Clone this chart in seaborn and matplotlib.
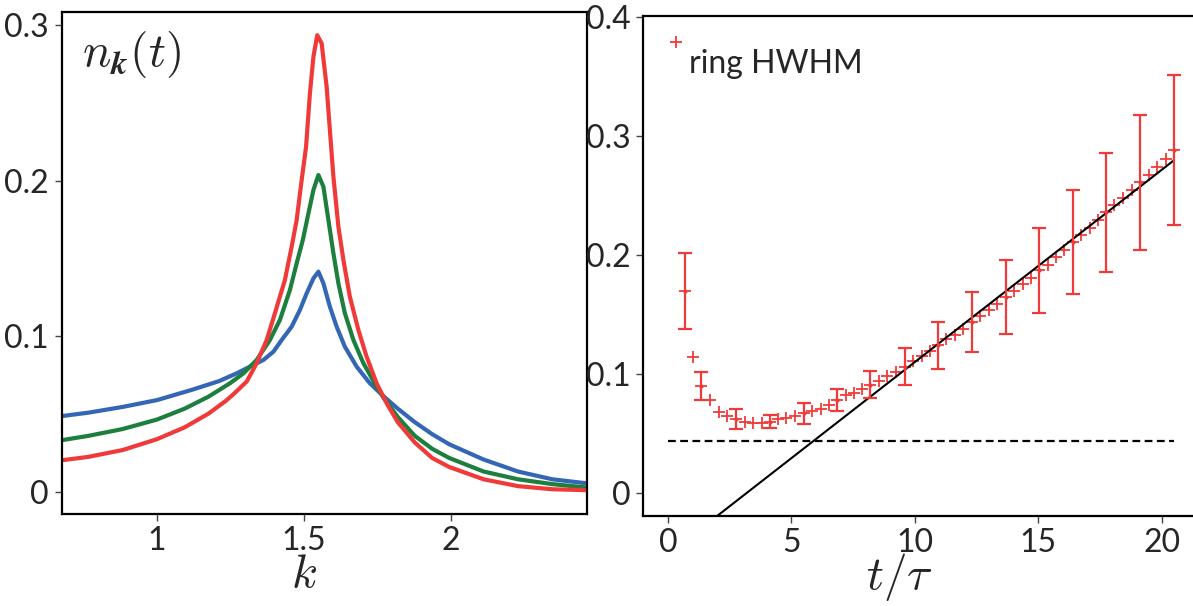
import numpy as np
import pandas as pd
import matplotlib
matplotlib.use("Agg")
import matplotlib.pyplot as plt
from matplotlib.ticker import FuncFormatter
import seaborn as sns

# ---- left panel: momentum distribution n_k(t) at three times ----
k_red = [0.675, 0.766, 0.883, 1.0, 1.094, 1.175, 1.234, 1.260, 1.305, 1.339, 1.373, 1.401,
         1.435, 1.458, 1.475, 1.492, 1.507, 1.520, 1.532, 1.545, 1.560, 1.577, 1.588, 1.600,
         1.617, 1.634, 1.656, 1.685, 1.713, 1.747, 1.781, 1.819, 1.877, 1.936, 1.994, 2.111,
         2.228, 2.345, 2.462]
n_red = [0.0203, 0.0225, 0.0269, 0.0339, 0.0415, 0.0503, 0.0585, 0.0628, 0.0709, 0.0827,
         0.0976, 0.1148, 0.1362, 0.1576, 0.1747, 0.2004, 0.2218, 0.256, 0.2796, 0.2935,
         0.2882, 0.2603, 0.2325, 0.2025, 0.1704, 0.149, 0.1254, 0.104, 0.0869, 0.0698,
         0.057, 0.0448, 0.0317, 0.0218, 0.016, 0.0081, 0.0037, 0.0017, 0.0011]

k_green = [0.675, 0.766, 0.883, 1.0, 1.094, 1.175, 1.248, 1.294, 1.339, 1.384, 1.418, 1.452,
           1.475, 1.496, 1.515, 1.532, 1.549, 1.566, 1.583, 1.600, 1.617, 1.639, 1.668, 1.702,
           1.747, 1.772, 1.819, 1.877, 1.936, 1.994, 2.111, 2.228, 2.345, 2.462]
n_green = [0.0332, 0.036, 0.0404, 0.0465, 0.0535, 0.0612, 0.0698, 0.0762, 0.0848, 0.0976,
           0.1105, 0.1297, 0.1469, 0.1619, 0.179, 0.194, 0.2036, 0.1961, 0.1747, 0.1533,
           0.134, 0.1148, 0.0976, 0.0827, 0.0676, 0.0601, 0.0481, 0.036, 0.0277, 0.0218,
           0.0131, 0.0081, 0.005, 0.0028]

k_blue = [0.675, 0.766, 0.883, 1.0, 1.117, 1.211, 1.271, 1.316, 1.362, 1.396, 1.424, 1.458,
          1.486, 1.509, 1.532, 1.549, 1.566, 1.588, 1.611, 1.639, 1.679, 1.724, 1.772, 1.819,
          1.877, 1.936, 1.994, 2.111, 2.228, 2.345, 2.462]
n_blue = [0.0487, 0.0509, 0.0546, 0.059, 0.0655, 0.0712, 0.0762, 0.0805, 0.0848, 0.0901,
          0.0976, 0.1062, 0.1169, 0.1276, 0.1372, 0.1415, 0.134, 0.119, 0.1062, 0.0933,
          0.0805, 0.0698, 0.0612, 0.0535, 0.0448, 0.0371, 0.0306, 0.0208, 0.0131, 0.0081,
          0.0055]

# ---- right panel: ring HWHM vs t/tau ----
t_hwhm = [0.31, 0.69, 1.03, 1.35, 1.69, 2.05, 2.41, 2.76, 3.10, 3.45, 3.80, 4.14, 4.44, 4.80,
          5.15, 5.49, 5.82, 6.18, 6.51, 6.85, 7.20, 7.54, 7.86, 8.20, 8.55, 8.89, 9.24, 9.58,
          9.92, 10.27, 10.61, 10.93, 11.26, 11.62, 11.95, 12.31, 12.64, 12.98, 13.33, 13.67,
          14.01, 14.36, 14.71, 15.02, 15.37, 15.71, 16.05, 16.40, 16.74, 17.09, 17.43, 17.75,
          18.08, 18.44, 18.77, 19.13, 19.46, 19.80, 20.15, 20.49]
hwhm = [0.379, 0.170, 0.114, 0.090, 0.078, 0.068, 0.065, 0.062, 0.060, 0.059, 0.059, 0.060,
        0.062, 0.063, 0.065, 0.067, 0.069, 0.071, 0.074, 0.078, 0.082, 0.084, 0.0875, 0.091,
        0.094, 0.098, 0.102, 0.106, 0.111, 0.115, 0.119, 0.124, 0.129, 0.133, 0.1375, 0.1436,
        0.149, 0.154, 0.159, 0.165, 0.170, 0.176, 0.1805, 0.187, 0.192, 0.198, 0.204, 0.211,
        0.217, 0.223, 0.229, 0.236, 0.242, 0.248, 0.2545, 0.261, 0.2676, 0.274, 0.281, 0.2886]

t_err = [0.69, 1.35, 2.76, 4.14, 5.49, 6.85, 8.20, 9.58, 10.93, 12.31, 13.67, 15.02, 16.40,
         17.75, 19.13, 20.49]
y_err = [0.170, 0.090, 0.062, 0.060, 0.067, 0.078, 0.091, 0.106, 0.124, 0.1436, 0.165, 0.187,
         0.211, 0.236, 0.261, 0.2886]
err = [0.032, 0.012, 0.0085, 0.0055, 0.0088, 0.009, 0.0115, 0.0155, 0.020, 0.0255, 0.031,
       0.036, 0.044, 0.050, 0.057, 0.063]

fit_t = [0.0, 20.49]
fit_slope = 0.01616
fit_icpt = -0.0515
dash_level = 0.0436
dash_t = [0.0, 20.5]

RED = '#f03a3a'
GREEN = '#1c7f3e'
BLUE = '#3466b6'

sns.set_theme(style="ticks")
plt.rcParams['font.family'] = ['Lato', 'DejaVu Sans']
plt.rcParams['mathtext.fontset'] = 'cm'
plt.rcParams['axes.linewidth'] = 1.6
plt.rcParams['axes.edgecolor'] = 'black'

fig = plt.figure(figsize=(11.93, 6.06), dpi=100)
W, H = 1193, 606
ax1 = fig.add_axes([61.5 / W, 1 - 514 / H, (586.8 - 61.5) / W, (514 - 11.5) / H])
ax2 = fig.add_axes([643 / W, 1 - 515.6 / H, (1193 - 643) / W, (515.6 - 16.3) / H])

fmt = FuncFormatter(lambda v, p: f"{v:g}")

# left panel
for kk, nn, c in [(k_blue, n_blue, BLUE), (k_green, n_green, GREEN), (k_red, n_red, RED)]:
    sns.lineplot(x=kk, y=nn, ax=ax1, color=c, linewidth=3.0, sort=False)
ax1.set_xlim(0.675, 2.462)
ax1.set_ylim(-0.0142, 0.3087)
ax1.set_xticks([1, 1.5, 2])
ax1.set_yticks([0, 0.1, 0.2, 0.3])
ax1.xaxis.set_major_formatter(fmt)
ax1.yaxis.set_major_formatter(fmt)
ax1.text(0.745, 0.281, r'$n_{\boldsymbol{k}}(t)$', fontsize=34, va='center', ha='left')
ax1.set_xlabel(r'$k$', fontsize=34)
ax1.xaxis.set_label_coords(0.4617, -0.078)
ax1.set_ylabel('')

# right panel
ax2.plot(dash_t, [dash_level, dash_level], color='black', linestyle=(0, (3.5, 2)), linewidth=1.6)
fit_y = [fit_slope * t + fit_icpt for t in fit_t]
sns.lineplot(x=fit_t, y=fit_y, ax=ax2, color='black', linewidth=1.5)
ax2.errorbar(t_err, y_err, yerr=err, fmt='.', color=RED, markersize=4, elinewidth=1.6,
             capsize=5, capthick=1.6)
sns.scatterplot(x=t_hwhm, y=hwhm, ax=ax2, marker='+', s=70, color=RED, linewidth=1.3)
ax2.text(0.84, 0.3606, 'ring HWHM', fontsize=23, va='center', ha='left')
ax2.set_xlim(-1.01, 21.26)
ax2.set_ylim(-0.019, 0.4006)
ax2.set_xticks([0, 5, 10, 15, 20])
ax2.set_yticks([0, 0.1, 0.2, 0.3, 0.4])
ax2.xaxis.set_major_formatter(fmt)
ax2.yaxis.set_major_formatter(fmt)
ax2.spines['right'].set_visible(False)
ax2.set_xlabel(r'$t/\tau$', fontsize=34)
ax2.xaxis.set_label_coords(0.467, -0.07)

for ax in (ax1, ax2):
    ax.tick_params(axis='both', labelsize=23, length=5, width=1, color='#444444', pad=4)

fig.savefig('out.png', dpi=100)
